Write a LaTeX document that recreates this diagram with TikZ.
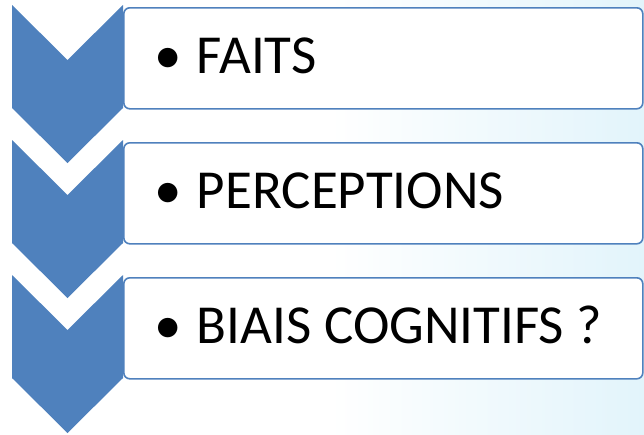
\documentclass[tikz,border=0pt]{standalone}
\usepackage{fontspec}
\setmainfont{Carlito}
\usetikzlibrary{positioning,calc}
\definecolor{officeblue}{HTML}{4F81BD}
\definecolor{paleblue}{HTML}{E2F4FB}
\tikzset{
  itembox/.style ={rectangle, rounded corners=6pt, draw=officeblue, line width=1.6pt,
                   fill=white, minimum width=519pt, minimum height=101pt,
                   inner sep=0pt, anchor=north west},
  chevron/.style ={fill=officeblue, draw=none},
  itemtxt/.style ={font=\fontsize{55}{60}\selectfont, anchor=base west, inner sep=0pt}
}
\begin{document}
\begin{tikzpicture}[x=1pt,y=-1pt]
%% page frame and faint background tint
\useasboundingbox (0,0) rectangle (644,434);
\shade[left color=white, right color=paleblue] (330,0) rectangle (644,434);
\fill[white] (0,0) rectangle (330,434);
%% one box and one chevron for each step
\foreach \txt [count=\i from 0] in {FAITS, PERCEPTIONS, BIAIS COGNITIFS ?}{
  \pgfmathsetmacro{\d}{135*\i}
  \node[itembox] (box\i) at (123,7+\d) {};
  \fill[chevron] (12,5+\d) -- (67.5,60+\d) -- (123,5+\d) -- (123,108+\d)
                 -- (67.5,163+\d) -- (12,108+\d) -- cycle;
  \node[itemtxt] (item\i) at (154,73+\d) {•\hspace{0.28em}\txt};
}
\end{tikzpicture}
\end{document}
